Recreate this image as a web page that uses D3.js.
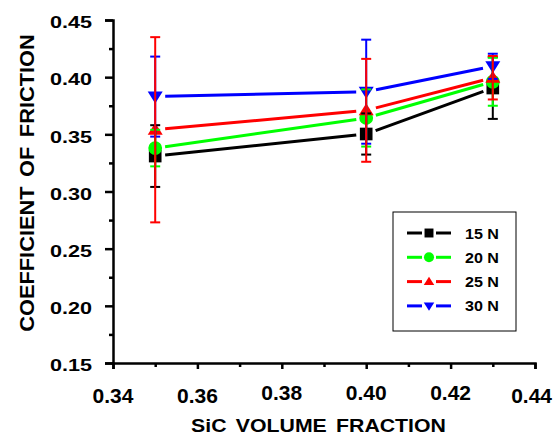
<!DOCTYPE html>
<html><head><meta charset="utf-8">
<script src="https://cdn.jsdelivr.net/npm/d3@7"></script>
<style>body{margin:0;background:#fff}svg{display:block}text{font-family:"Liberation Sans",Arial,sans-serif;font-weight:bold;fill:#000}</style>
</head><body><svg id="c" width="553" height="436"></svg>
<script>
const xValues = [0.35, 0.40, 0.43];
const seriesNames = ["15 N", "20 N", "25 N", "30 N"];
const series15 = [0.331, 0.3503, 0.3905];
const series20 = [0.338, 0.3643, 0.396];
const series25 = [0.354, 0.371, 0.3995];
const series30 = [0.383, 0.3873, 0.4095];
const err15 = [0.027, 0.018, 0.027];
const err20 = [0.016, 0.025, 0.021];
const err25 = [0.081, 0.045, 0.019];
const err30 = [0.035, 0.0455, 0.011];
const xTicks = [0.34, 0.36, 0.38, 0.40, 0.42, 0.44];
const yTicks = [0.15, 0.20, 0.25, 0.30, 0.35, 0.40, 0.45];
const xMinor = [0.35, 0.37, 0.39, 0.41, 0.43];
const yMinor = [0.175, 0.225, 0.275, 0.325, 0.375, 0.425];

const colors = ["#000000", "#00ff00", "#ff0000", "#0000ff"];
const symbols = ["square", "circle", "triangle", "triangleDown"];
const allVals = [series15, series20, series25, series30];
const allErr = [err15, err20, err25, err30];
const fmt = d3.format(".2f");

const svg = d3.select("#c");
const x = d3.scaleLinear().domain([0.34, 0.44]).range([113, 535]);
const y = d3.scaleLinear().domain([0.15, 0.45]).range([363, 20]);

const xAxis = svg.append("g").attr("transform", "translate(0,363)")
  .call(d3.axisBottom(x).tickValues(xTicks).tickFormat("").tickSize(6));
const yAxis = svg.append("g").attr("transform", "translate(113,0)")
  .call(d3.axisLeft(y).tickValues(yTicks).tickFormat("").tickSize(8));
[xAxis, yAxis].forEach(g => {
  g.select(".domain").attr("stroke", "#000").attr("stroke-width", 2.5);
  g.selectAll(".tick line").attr("stroke", "#000").attr("stroke-width", 2.5);
});
svg.append("g").attr("transform", "translate(0,363)")
  .call(d3.axisBottom(x).tickValues(xMinor).tickSize(4).tickFormat(""))
  .call(g => { g.select(".domain").remove(); g.selectAll("line").attr("stroke", "#000").attr("stroke-width", 2.5); });
svg.append("g").attr("transform", "translate(113,0)")
  .call(d3.axisLeft(y).tickValues(yMinor).tickSize(4).tickFormat(""))
  .call(g => { g.select(".domain").remove(); g.selectAll("line").attr("stroke", "#000").attr("stroke-width", 2.5); });

// y tick labels
svg.append("g").selectAll("text").data(yTicks).join("text")
  .attr("transform", d => `translate(92,${y(d) + 8.3}) scale(1.27,1)`)
  .attr("text-anchor", "end").style("font-size", "17px").text(fmt);
// x tick labels (slightly staggered like the original); last one kept inside the page
const xDy = [0, 0, -3, -3, -3, 0];
svg.append("g").selectAll("text").data(xTicks).join("text")
  .attr("x", (d, i) => i === xTicks.length - 1 ? 552 : x(d)).attr("y", (d, i) => 403 + xDy[i])
  .attr("text-anchor", (d, i) => i === xTicks.length - 1 ? "end" : "middle")
  .style("font-size", "21px").text(fmt);

// titles
svg.append("text").attr("transform", "translate(318.5,432) scale(1.12,1)").attr("text-anchor", "middle")
  .style("font-size", "19px").style("word-spacing", "3px").text("SiC VOLUME FRACTION");
svg.append("text").attr("transform", "translate(34,183) rotate(-90) scale(1.12,1)").attr("text-anchor", "middle")
  .style("font-size", "19.5px").style("word-spacing", "3px").text("COEFFICIENT OF FRICTION");

function symPath(kind, size) {
  if (kind === "square") return d3.symbol(d3.symbolSquare, size)();
  if (kind === "circle") return d3.symbol(d3.symbolCircle, size)();
  if (kind === "triangle") return "M0,-7L7.5,5L-7.5,5Z";
  return "M0,7L7.5,-5L-7.5,-5Z";
}

const gap = 10;
allVals.forEach((vals, si) => {
  for (let i = 0; i < vals.length - 1; i++) {
    const x0 = x(xValues[i]), y0 = y(vals[i]), x1 = x(xValues[i + 1]), y1 = y(vals[i + 1]);
    const L = Math.hypot(x1 - x0, y1 - y0), ux = (x1 - x0) / L, uy = (y1 - y0) / L;
    svg.append("line").attr("x1", x0 + ux * gap).attr("y1", y0 + uy * gap)
      .attr("x2", x1 - ux * gap).attr("y2", y1 - uy * gap)
      .attr("stroke", colors[si]).attr("stroke-width", 3);
  }
});
allVals.forEach((vals, si) => {
  vals.forEach((v, i) => {
    svg.append("path").attr("d", symPath(symbols[si], symbols[si] === "square" ? 160 : 150))
      .attr("transform", `translate(${x(xValues[i])},${y(v)})`).attr("fill", colors[si]);
  });
});
[0, 1, 3, 2].forEach(si => {
  allVals[si].forEach((v, i) => {
    const cx = x(xValues[i]), e = allErr[si][i];
    const g = svg.append("g").attr("stroke", colors[si]).attr("stroke-width", 2);
    g.append("line").attr("x1", cx).attr("x2", cx).attr("y1", y(v - e)).attr("y2", y(v + e));
    [v - e, v + e].forEach(t => g.append("line").attr("x1", cx - 5).attr("x2", cx + 5).attr("y1", y(t)).attr("y2", y(t)));
  });
});

const lg = svg.append("g");
lg.append("rect").attr("x", 393).attr("y", 212).attr("width", 123).attr("height", 119)
  .attr("fill", "#fff").attr("stroke", "#000").attr("stroke-width", 1);
seriesNames.forEach((name, si) => {
  const ly = 233 + si * 24.3;
  lg.append("line").attr("x1", 407).attr("x2", 422).attr("y1", ly).attr("y2", ly).attr("stroke", colors[si]).attr("stroke-width", 3);
  lg.append("line").attr("x1", 436).attr("x2", 451).attr("y1", ly).attr("y2", ly).attr("stroke", colors[si]).attr("stroke-width", 3);
  lg.append("path").attr("d", symPath(symbols[si], 80)).attr("transform", `translate(429,${ly}) scale(${symbols[si].startsWith("tri") ? 0.7 : 1})`).attr("fill", colors[si]);
  lg.append("text").attr("transform", `translate(465,${ly + 5.5}) scale(1.15,1)`).style("font-size", "14px").text(name);
});
</script></body></html>
